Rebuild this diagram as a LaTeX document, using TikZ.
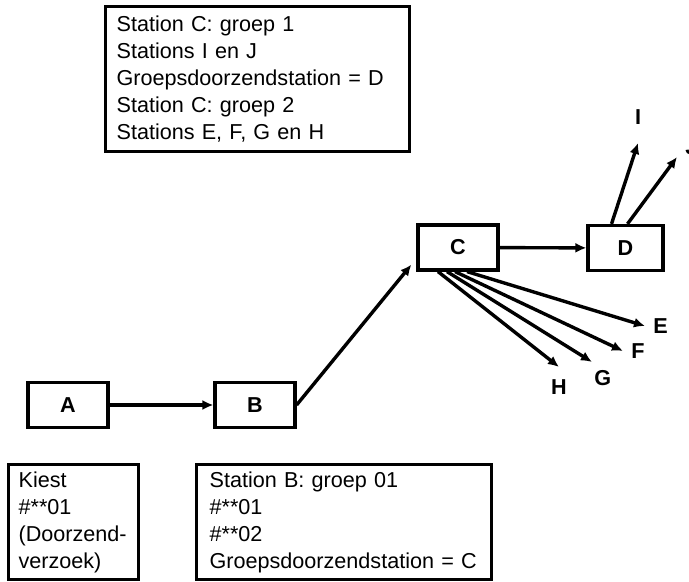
\documentclass[tikz,border=0pt]{standalone}
\usepackage{fontspec}
\setmainfont{Liberation Sans}
\usetikzlibrary{arrows.meta,positioning}

\begin{document}
\begin{tikzpicture}[x=0.5pt, y=-0.5pt, every node/.style={font=\fontsize{10.8}{13.5}\selectfont}, station/.style={draw, line width=1.6pt, minimum width=40pt, minimum height=22.5pt, inner sep=0pt, font=\fontsize{10.8}{13.5}\selectfont\bfseries}, infobox/.style={draw, line width=1.6pt, anchor=north west, align=left, inner xsep=5.5pt}, lbl/.style={inner sep=1pt, font=\fontsize{10.8}{13.5}\selectfont\bfseries}, arr/.style={-{Latex[length=5.5pt,width=5pt]}, line width=1.7pt}]
\useasboundingbox (0,0) rectangle (689,582);
\node[infobox, text width=141pt, minimum height=72.5pt] (groepen) at (104,5) {Station C: groep 1\\Stations I en J\\Groepsdoorzendstation = D\\Station C: groep 2\\Stations E, F, G en H};
\node[station] (A) at (68,405) {A};
\node[station] (B) at (255,405) {B};
\node[station] (C) at (458,247.5) {C};
\node[station, minimum width=37.5pt] (D) at (625.5,248) {D};
\node[infobox, text width=55pt, inner xsep=5pt, minimum height=57.5pt] (kiest) at (7,463) {Kiest\\\#**01\\(Doorzend-\\verzoek)};
\node[infobox, text width=134.5pt, inner xsep=6.5pt, minimum height=57.5pt] (stationB) at (195,463) {Station B: groep 01\\\#**01\\\#**02\\Groepsdoorzendstation = C};
% arrow tips of the outgoing stations
\coordinate (tE) at (645,326);
\coordinate (tF) at (623,351);
\coordinate (tG) at (592,362);
\coordinate (tH) at (559,367);
\coordinate (tI) at (638,143);
\coordinate (tJ) at (677,157);
\node[lbl, right=3pt of tE] (E) {E};
\node[lbl, right=3pt of tF] (F) {F};
\node[lbl, below right=3pt and 0pt of tG] (G) {G};
\node[lbl, below=5pt of tH] (H) {H};
\node[lbl, above=8pt of tI] (I) {I};
\node[lbl, above right=0pt and 3pt of tJ] (J) {J};
\draw[arr] (A) -- (B);
\draw[arr] (B.east) -- ([xshift=-2.5pt,yshift=3.5pt]C.south west);
\draw[arr] (C) -- (D);
\draw[arr] ([xshift=-7pt]D.north) -- (tI);
\draw[arr] ([xshift=1pt]D.north) -- (tJ);
\foreach \t/\s in {H/-10,G/-5.5,F/-1.5,E/4.5}
  \draw[arr] ([xshift=\s pt]C.south) -- (t\t);
\end{tikzpicture}
\end{document}
